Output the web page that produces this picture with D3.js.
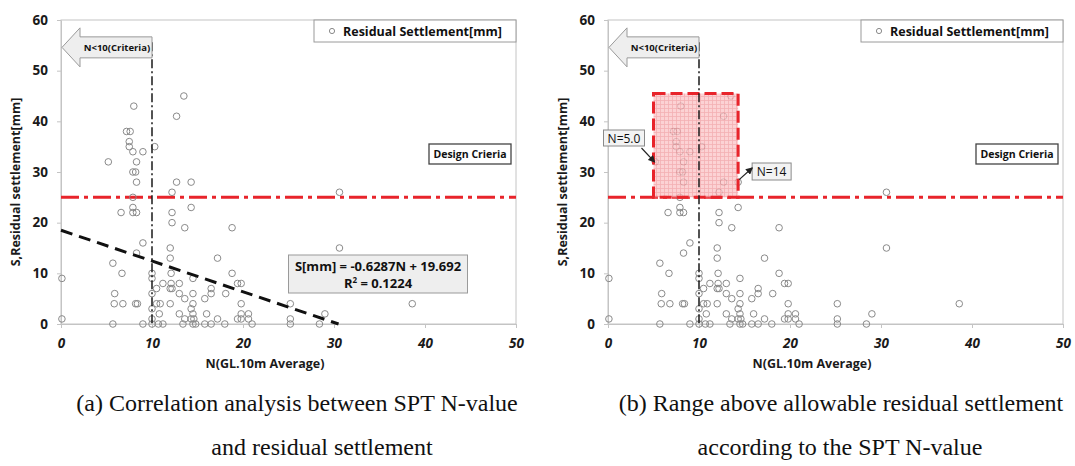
<!DOCTYPE html>
<html>
<head>
<meta charset="utf-8">
<script src="https://cdn.jsdelivr.net/npm/d3@7"></script>
<style>
  html, body { margin: 0; padding: 0; background: #fff; }
  svg { display: block; }
</style>
</head>
<body>
<div id="chart"></div>
<script>
'use strict';

// measured points (N value, residual settlement mm)
var nValues = [
  8.0, 7.2, 7.6, 7.5, 7.5, 7.9, 9.0, 5.2, 8.3, 7.9, 8.2, 8.3, 10.3, 12.7, 13.5, 12.7, 14.3, 12.2, 7.9, 30.6,
  6.6, 7.9, 7.9, 8.3, 12.2, 12.2, 13.6, 14.3, 18.8, 9.0, 12.0, 12.0, 8.3, 5.7, 6.7, 17.2, 30.6,
  0.1, 0.1, 10, 10, 10, 10, 10, 10,
  12.1, 11.2, 12.1, 13.0, 10.5, 12.0, 12.2, 14.5, 5.9, 13.0, 14.5, 16.5, 16.5, 18.1, 13.6, 15.8,
  5.85, 6.8, 8.2, 8.4, 10.5, 10.9, 12.0, 14.5, 10.8,
  13.0, 13.6, 14.3, 14.5, 14.3, 14.6, 16.0, 17.2,
  5.7, 9.0, 10.7, 11.2, 13.4, 14.5, 14.8, 15.8, 16.5, 18.0,
  18.8, 19.4, 19.8, 19.8, 19.8, 20.6, 19.4, 19.8, 20.6, 21.0, 25.2, 25.2, 25.2, 28.4, 29.0, 38.6
];
var settlements = [
  43, 38, 38, 36, 35, 34, 34, 32, 32, 30, 30, 28, 35, 41, 45, 28, 28, 26, 25, 26,
  22, 23, 22, 22, 22, 20, 19, 23, 19, 16, 15, 13, 14, 12, 10, 13, 15,
  9, 1, 10, 9, 6, 3, 1, 0,
  10, 8, 8, 8, 7, 7, 7, 9, 6, 6, 6, 7, 6, 6, 5, 5,
  4, 4, 4, 4, 4, 4, 4, 4, 2,
  2, 1, 3, 2, 1, 1, 2, 1,
  0, 0, 0, 0, 0, 0, 0, 0, 0, 0,
  10, 8, 8, 4, 2, 2, 1, 1, 1, 0, 4, 1, 0, 0, 2, 4
];

var xTicks = [0, 10, 20, 30, 40, 50];
var yTicks = [0, 10, 20, 30, 40, 50, 60];

// trend line as drawn (two ends)
var trendN = [0, 30.5];
var trendS = [18.5, 0];

var designLimit = 25;
var criteriaN = 10;
var criteriaTop = 55.6;
var rangeN = [5.0, 14.3];
var rangeS = [25, 45.5];

var legendLabel = 'Residual Settlement[mm]';
var xTitle = 'N(GL.10m Average)';
var yTitle = 'S,Residual settlement[mm]';
var captionsA = ['(a) Correlation analysis between SPT N-value', 'and residual settlement'];
var captionsB = ['(b) Range above allowable residual settlement', 'according to the SPT N-value'];

var points = nValues.map(function(n, i) { return {n: n, s: settlements[i]}; });

var width = 1075, height = 466;
var uiFont = '"Open Sans", Lato, sans-serif';

var svg = d3.select('#chart').append('svg')
  .attr('width', width)
  .attr('height', height);

svg.append('rect').attr('width', width).attr('height', height).attr('fill', '#fff');

var defs = svg.append('defs');

// pink grid fill for the range box
var pat = defs.append('pattern')
  .attr('id', 'pinkGrid')
  .attr('patternUnits', 'userSpaceOnUse')
  .attr('width', 4).attr('height', 4);
pat.append('rect').attr('width', 4).attr('height', 4).attr('fill', '#fbc3c6');
pat.append('path').attr('d', 'M0,0.5H4M0.5,0V4')
  .attr('stroke', '#f0959b').attr('stroke-width', 0.8);

defs.append('marker')
  .attr('id', 'arrowHead')
  .attr('viewBox', '0 0 6 6')
  .attr('refX', 5).attr('refY', 3)
  .attr('markerWidth', 6).attr('markerHeight', 6)
  .attr('orient', 'auto')
  .append('path').attr('d', 'M0,0L6,3L0,6Z').attr('fill', '#222');

function drawPanel(left, variant) {
  var x = d3.scaleLinear().domain([0, 50]).range([left, left + 455]);
  var y = d3.scaleLinear().domain([0, 60]).range([324, 20]);
  var g = svg.append('g');

  // frame
  g.append('rect')
    .attr('x', x(0)).attr('y', y(60))
    .attr('width', x(50) - x(0)).attr('height', y(0) - y(60))
    .attr('fill', 'none').attr('stroke', '#c4c4c4').attr('stroke-width', 1);

  // axes
  var yAxis = g.append('g')
    .attr('transform', 'translate(' + x(0) + ',0)')
    .call(d3.axisLeft(y).tickValues(yTicks).tickSize(4).tickSizeOuter(0).tickPadding(9));
  var xAxis = g.append('g')
    .attr('transform', 'translate(0,' + y(0) + ')')
    .call(d3.axisBottom(x).tickValues(xTicks).tickSize(4).tickSizeOuter(0).tickPadding(10));

  [yAxis, xAxis].forEach(function(a) {
    a.select('.domain').attr('stroke', '#c4c4c4');
    a.selectAll('.tick line').attr('stroke', '#c4c4c4');
    a.selectAll('.tick text')
      .attr('fill', '#1a1a1a')
      .style('font-family', uiFont)
      .style('font-weight', 'bold')
      .style('font-size', '13.5px');
  });
  xAxis.selectAll('.tick text').style('font-style', 'italic');

  // axis titles
  g.append('text')
    .attr('x', x(0) + 204).attr('y', 368)
    .attr('text-anchor', 'middle')
    .style('font-family', uiFont).style('font-weight', 'bold').style('font-size', '12.5px')
    .attr('fill', '#1a1a1a')
    .text(xTitle);

  g.append('text')
    .attr('transform', 'translate(' + (x(0) - 41) + ',182) rotate(-90)')
    .attr('text-anchor', 'middle')
    .style('font-family', uiFont).style('font-weight', 'bold').style('font-size', '12.5px')
    .attr('fill', '#1a1a1a')
    .text(yTitle);

  // design limit line
  g.append('line')
    .attr('x1', x(0)).attr('x2', x(50))
    .attr('y1', y(designLimit)).attr('y2', y(designLimit))
    .attr('stroke', '#e8242b').attr('stroke-width', 3)
    .attr('stroke-dasharray', '18,5,4,5');

  // points
  g.append('g').selectAll('circle')
    .data(points)
    .enter().append('circle')
    .attr('cx', function(d) { return x(d.n); })
    .attr('cy', function(d) { return y(d.s); })
    .attr('r', 3.3)
    .attr('fill', 'none')
    .attr('stroke', '#8a8a8a')
    .attr('stroke-width', 1);

  if (variant === 'a') {
    g.append('line')
      .attr('x1', x(trendN[0])).attr('y1', y(trendS[0]))
      .attr('x2', x(trendN[1])).attr('y2', y(trendS[1]))
      .attr('stroke', '#111').attr('stroke-width', 3)
      .attr('stroke-dasharray', '12,7');

    var bx = x(25.0), by = 255;
    g.append('rect')
      .attr('x', bx).attr('y', by).attr('width', 179).attr('height', 38)
      .attr('fill', '#eeeeee').attr('stroke', '#9a9a9a');
    g.append('text')
      .attr('x', bx + 89.5).attr('y', by + 16)
      .attr('text-anchor', 'middle')
      .style('font-family', uiFont).style('font-weight', 'bold').style('font-size', '13px')
      .attr('fill', '#111')
      .text('S[mm] = -0.6287N + 19.692');
    var r2 = g.append('text')
      .attr('x', bx + 89.5).attr('y', by + 33)
      .attr('text-anchor', 'middle')
      .style('font-family', uiFont).style('font-weight', 'bold').style('font-size', '13px')
      .attr('fill', '#111');
    r2.append('tspan').text('R');
    r2.append('tspan').attr('dy', -5).style('font-size', '8px').text('2');
    r2.append('tspan').attr('dy', 5).text(' = 0.1224');
  } else {
    g.append('rect')
      .attr('x', x(rangeN[0])).attr('y', y(rangeS[1]))
      .attr('width', x(rangeN[1]) - x(rangeN[0]))
      .attr('height', y(rangeS[0]) - y(rangeS[1]))
      .attr('fill', 'url(#pinkGrid)').attr('fill-opacity', 0.75)
      .attr('stroke', '#e8242b').attr('stroke-width', 3)
      .attr('stroke-dasharray', '12,5');

    // N=5.0 callout
    var c1x = x(rangeN[0]) - 50, c1y = 130;
    g.append('rect').attr('x', c1x).attr('y', c1y).attr('width', 41).attr('height', 16)
      .attr('fill', '#f3f3f3').attr('stroke', '#8a8a8a');
    g.append('text').attr('x', c1x + 20.5).attr('y', c1y + 12.5)
      .attr('text-anchor', 'middle')
      .style('font-family', uiFont).style('font-size', '12px').attr('fill', '#111')
      .text('N=5.0');
    g.append('line')
      .attr('x1', c1x + 38).attr('y1', c1y + 18)
      .attr('x2', x(rangeN[0]) + 1).attr('y2', y(32))
      .attr('stroke', '#222').attr('stroke-width', 1.2)
      .attr('marker-end', 'url(#arrowHead)');

    // N=14 callout
    var c2x = x(rangeN[1]) + 14, c2y = 163;
    g.append('rect').attr('x', c2x).attr('y', c2y).attr('width', 39).attr('height', 17)
      .attr('fill', '#f3f3f3').attr('stroke', '#8a8a8a');
    g.append('text').attr('x', c2x + 19.5).attr('y', c2y + 13)
      .attr('text-anchor', 'middle')
      .style('font-family', uiFont).style('font-size', '12px').attr('fill', '#111')
      .text('N=14');
    g.append('line')
      .attr('x1', x(rangeN[1]) + 1).attr('y1', y(28.5))
      .attr('x2', c2x).attr('y2', c2y + 5)
      .attr('stroke', '#222').attr('stroke-width', 1.2)
      .attr('marker-end', 'url(#arrowHead)');
  }

  // N<10 criteria line
  g.append('line')
    .attr('x1', x(criteriaN)).attr('x2', x(criteriaN))
    .attr('y1', y(criteriaTop)).attr('y2', y(0))
    .attr('stroke', '#1a1a1a').attr('stroke-width', 1.5)
    .attr('stroke-dasharray', '9,3,2,3');

  // criteria arrow (pointing left)
  var ay = y(54.6), tip = x(0) + 1, tail = x(criteriaN), headLen = 18;
  var arrowPts = [
    [tip, ay], [tip + headLen, ay - 19.5], [tip + headLen, ay - 10.5],
    [tail, ay - 10.5], [tail, ay + 10.5], [tip + headLen, ay + 10.5],
    [tip + headLen, ay + 19.5]
  ];
  g.append('path')
    .attr('d', d3.line()(arrowPts) + 'Z')
    .attr('fill', '#eeeeee').attr('stroke', '#9a9a9a').attr('stroke-width', 1);
  g.append('text')
    .attr('x', (tip + headLen + tail) / 2 + 1).attr('y', ay + 4)
    .attr('text-anchor', 'middle')
    .style('font-family', uiFont).style('font-weight', 'bold').style('font-size', '9.5px')
    .attr('fill', '#111')
    .text('N<10(Criteria)');

  // legend
  var lx = x(50) - 202, ly = y(60);
  g.append('rect').attr('x', lx).attr('y', ly).attr('width', 202).attr('height', 22)
    .attr('fill', '#fff').attr('stroke', '#9a9a9a');
  g.append('circle').attr('cx', lx + 18).attr('cy', ly + 11).attr('r', 2.6)
    .attr('fill', 'none').attr('stroke', '#8a8a8a');
  g.append('text').attr('x', lx + 29).attr('y', ly + 16)
    .style('font-family', uiFont).style('font-weight', 'bold').style('font-size', '12.5px')
    .attr('fill', '#111')
    .text(legendLabel);

  // design criteria tag
  var dx = x(50) - 87, dy = 144;
  g.append('rect').attr('x', dx).attr('y', dy).attr('width', 82).attr('height', 20)
    .attr('fill', '#fff').attr('stroke', '#444').attr('stroke-width', 1.3);
  g.append('text').attr('x', dx + 41).attr('y', dy + 14)
    .attr('text-anchor', 'middle')
    .style('font-family', uiFont).style('font-weight', 'bold').style('font-size', '10.5px')
    .attr('fill', '#111')
    .text('Design Crieria');
}

drawPanel(61, 'a');
drawPanel(608, 'b');

// captions
function caption(lines, centers) {
  lines.forEach(function(t, i) {
    svg.append('text')
      .attr('x', centers[i]).attr('y', i === 0 ? 411 : 455)
      .attr('text-anchor', 'middle')
      .style('font-family', '"Liberation Serif", "Times New Roman", serif')
      .style('font-size', '24px')
      .attr('fill', '#111')
      .text(t);
  });
}
caption(captionsA, [297, 322]);
caption(captionsB, [841, 840]);
</script>
</body>
</html>
